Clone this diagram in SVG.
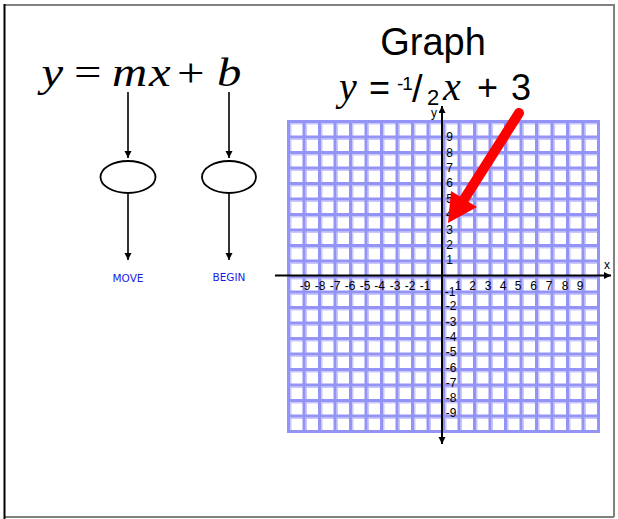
<svg xmlns="http://www.w3.org/2000/svg" width="618" height="519" viewBox="0 0 618 519">
<style>
.eq{font-family:"Liberation Serif","Times New Roman",serif;}
.it{font-style:italic;}
.ar{font-family:"Liberation Sans",Arial,sans-serif;}
.num{font-family:"Liberation Sans",Arial,sans-serif;font-size:12px;fill:#000;text-anchor:middle;}
.lbl{font-family:"DejaVu Sans","Liberation Sans",sans-serif;font-size:10.5px;fill:#1a1ae6;text-anchor:middle;}
.conn{stroke:#000;stroke-width:1.6;fill:none;}
.axis{stroke:#000;stroke-width:2;fill:none;}
.ell{fill:#fff;stroke:#000;stroke-width:1.8;}
</style>
<defs>
<marker id="ah" markerUnits="userSpaceOnUse" markerWidth="8" markerHeight="8" refX="7" refY="3.5" orient="auto">
<path d="M0,0 L7,3.5 L0,7 z" fill="#000"/>
</marker>
</defs>
<rect x="0" y="0" width="618" height="519" fill="#fff"/>
<g id="frame">
<path d="M4 5H614V517" stroke="#808080" stroke-width="2" fill="none"/>
<path d="M4 517H614" stroke="#808080" stroke-width="2"/>
<path d="M4.5 4V519" stroke="#000" stroke-width="2"/>
</g>
<g id="equation">
<text class="eq" font-size="39" transform="translate(0,86) scale(1.25,1)"><tspan class="it" x="33.2" y="0">y</tspan><tspan x="59.2" y="0">=</tspan><tspan class="it" x="89.6" y="0">m</tspan><tspan class="it" x="119.2" y="0">x</tspan><tspan x="141.6" y="0">+</tspan><tspan class="it" x="173.6" y="0">b</tspan></text>
</g>
<g id="ellipse-m"><ellipse class="ell" cx="128" cy="177" rx="27.5" ry="16"/></g>
<g id="ellipse-b"><ellipse class="ell" cx="229" cy="177" rx="27" ry="16"/></g>
<g id="label-move"><text class="lbl" x="128" y="282">MOVE</text></g>
<g id="label-begin"><text class="lbl" x="229" y="281">BEGIN</text></g>
<g id="connectors">
<line class="conn" x1="128" y1="92" x2="128" y2="158" marker-end="url(#ah)"/>
<line class="conn" x1="128" y1="193" x2="128" y2="260" marker-end="url(#ah)"/>
<line class="conn" x1="229" y1="92" x2="229" y2="158" marker-end="url(#ah)"/>
<line class="conn" x1="229" y1="193" x2="229" y2="260" marker-end="url(#ah)"/>
</g>
<g id="title">
<text class="ar" font-size="38" x="433" y="55" text-anchor="middle">Graph</text>
<text class="eq it" font-size="40" x="339" y="100">y</text>
<text class="ar" font-size="36" x="369" y="100">=</text>
<text class="ar" font-size="19" x="397" y="90" letter-spacing="-1">-1</text>
<text class="ar" font-size="38" x="412" y="102">/</text>
<text class="ar" font-size="22" x="427" y="105">2</text>
<text class="eq it" font-size="40" x="443" y="100">x</text>
<text class="ar" font-size="36" x="477" y="100">+</text>
<text class="ar" font-size="36" x="511" y="100">3</text>
</g>
<g id="grid">
<path stroke="#c8c8ff" stroke-width="1.5" fill="none" d="M290.75 121.5V431.5M306.25 121.5V431.5M321.75 121.5V431.5M337.25 121.5V431.5M352.75 121.5V431.5M368.25 121.5V431.5M383.75 121.5V431.5M399.25 121.5V431.5M414.75 121.5V431.5M430.25 121.5V431.5M445.75 121.5V431.5M461.25 121.5V431.5M476.75 121.5V431.5M492.25 121.5V431.5M507.75 121.5V431.5M523.25 121.5V431.5M538.75 121.5V431.5M554.25 121.5V431.5M569.75 121.5V431.5M585.25 121.5V431.5M288.5 123.75H598.5M288.5 139.25H598.5M288.5 154.75H598.5M288.5 170.25H598.5M288.5 185.75H598.5M288.5 201.25H598.5M288.5 216.75H598.5M288.5 232.25H598.5M288.5 247.75H598.5M288.5 263.25H598.5M288.5 278.75H598.5M288.5 294.25H598.5M288.5 309.75H598.5M288.5 325.25H598.5M288.5 340.75H598.5M288.5 356.25H598.5M288.5 371.75H598.5M288.5 387.25H598.5M288.5 402.75H598.5M288.5 418.25H598.5"/>
<path stroke="#9494f6" stroke-width="3" fill="none" d="M288.5 121.5V431.5M304 121.5V431.5M319.5 121.5V431.5M335 121.5V431.5M350.5 121.5V431.5M366 121.5V431.5M381.5 121.5V431.5M397 121.5V431.5M412.5 121.5V431.5M428 121.5V431.5M443.5 121.5V431.5M459 121.5V431.5M474.5 121.5V431.5M490 121.5V431.5M505.5 121.5V431.5M521 121.5V431.5M536.5 121.5V431.5M552 121.5V431.5M567.5 121.5V431.5M583 121.5V431.5M598.5 121.5V431.5M287 121.5H600M287 137H600M287 152.5H600M287 168H600M287 183.5H600M287 199H600M287 214.5H600M287 230H600M287 245.5H600M287 261H600M287 276.5H600M287 292H600M287 307.5H600M287 323H600M287 338.5H600M287 354H600M287 369.5H600M287 385H600M287 400.5H600M287 416H600M287 431.5H600"/>
</g>
<g id="axes">
<line class="axis" x1="442" y1="276" x2="442" y2="106" marker-end="url(#ah)"/>
<line class="axis" x1="442" y1="276" x2="442" y2="444" marker-end="url(#ah)"/>
<line class="axis" x1="275" y1="275.5" x2="611" y2="275.5" marker-end="url(#ah)"/>
<text class="num" x="434" y="117">y</text>
<text class="num" x="607" y="269">x</text>
</g>
<g id="y-labels">
<text class="num" x="449.5" y="141.1">9</text>
<text class="num" x="449.5" y="156.5">8</text>
<text class="num" x="449.5" y="171.9">7</text>
<text class="num" x="449.5" y="187.3">6</text>
<text class="num" x="449.5" y="202.7">5</text>
<text class="num" x="449.5" y="218.1">4</text>
<text class="num" x="449.5" y="233.5">3</text>
<text class="num" x="449.5" y="248.9">2</text>
<text class="num" x="449.5" y="264.3">1</text>
<text class="num" x="450" y="296">-1</text>
<text class="num" x="451" y="310.3">-2</text>
<text class="num" x="451" y="325.6">-3</text>
<text class="num" x="451" y="340.9">-4</text>
<text class="num" x="451" y="356.2">-5</text>
<text class="num" x="451" y="371.5">-6</text>
<text class="num" x="451" y="386.8">-7</text>
<text class="num" x="451" y="402.1">-8</text>
<text class="num" x="451" y="417.4">-9</text>
</g>
<g id="x-labels">
<text class="num" x="305" y="290">-9</text>
<text class="num" x="320" y="290">-8</text>
<text class="num" x="335" y="290">-7</text>
<text class="num" x="350" y="290">-6</text>
<text class="num" x="365" y="290">-5</text>
<text class="num" x="379.5" y="290">-4</text>
<text class="num" x="395" y="290">-3</text>
<text class="num" x="410" y="290">-2</text>
<text class="num" x="425" y="290">-1</text>
<text class="num" x="458" y="290">1</text>
<text class="num" x="472.5" y="290">2</text>
<text class="num" x="488" y="290">3</text>
<text class="num" x="503" y="290">4</text>
<text class="num" x="518" y="290">5</text>
<text class="num" x="533.5" y="290">6</text>
<text class="num" x="549" y="290">7</text>
<text class="num" x="565" y="290">8</text>
<text class="num" x="580" y="290">9</text>
</g>
<g id="pointer">
<line x1="519" y1="113" x2="463" y2="201" stroke="#f00" stroke-width="10" stroke-linecap="round"/>
<polygon points="448,223 451,191 477,207" fill="#f00"/>
</g>
</svg>
